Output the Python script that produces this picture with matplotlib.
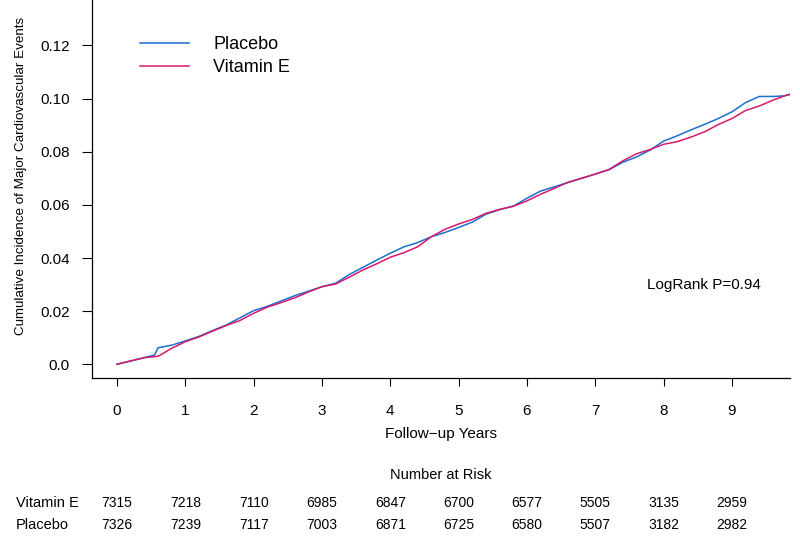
import matplotlib
matplotlib.use("Agg")
import matplotlib.pyplot as plt
import matplotlib.transforms as mtransforms

plt.rcParams['font.family'] = ['Liberation Sans', 'DejaVu Sans']

# follow-up time (years) and cumulative incidence
t_placebo = [0.0, 0.2, 0.4, 0.55, 0.6, 0.8, 1.0, 1.2, 1.4, 1.6, 1.8, 2.0, 2.2, 2.4, 2.6, 2.8,
             3.0, 3.2, 3.4, 3.6, 3.8, 4.0, 4.2, 4.4, 4.6, 4.8, 5.0, 5.2, 5.4, 5.6, 5.8,
             6.0, 6.2, 6.4, 6.6, 6.8, 7.0, 7.2, 7.4, 7.6, 7.8, 8.0, 8.2, 8.4, 8.6, 8.8,
             9.0, 9.2, 9.4, 9.6, 9.77, 9.85]
ci_placebo = [0.0, 0.0012, 0.0025, 0.0035, 0.0062, 0.0072, 0.0088, 0.0105, 0.0127, 0.0148, 0.0175,
              0.0202, 0.0218, 0.0238, 0.0258, 0.0275, 0.0292, 0.0305, 0.0338, 0.0365, 0.0392,
              0.0418, 0.0442, 0.0458, 0.0480, 0.0496, 0.0515, 0.0535, 0.0565, 0.0582, 0.0595,
              0.0625, 0.0652, 0.0668, 0.0684, 0.0700, 0.0716, 0.0732, 0.0760, 0.0780, 0.0806,
              0.0840, 0.0860, 0.0882, 0.0903, 0.0925, 0.0950, 0.0985, 0.1008, 0.1008, 0.1010,
              0.1017]

t_vite = [0.0, 0.2, 0.4, 0.6, 0.8, 1.0, 1.2, 1.4, 1.6, 1.8, 2.0, 2.2, 2.4, 2.6, 2.8,
          3.0, 3.2, 3.4, 3.6, 3.8, 4.0, 4.2, 4.4, 4.6, 4.8, 5.0, 5.2, 5.4, 5.6, 5.8,
          6.0, 6.2, 6.4, 6.6, 6.8, 7.0, 7.2, 7.4, 7.6, 7.8, 8.0, 8.2, 8.4, 8.6, 8.8,
          9.0, 9.2, 9.4, 9.6, 9.8, 9.85]
ci_vite = [0.0, 0.0013, 0.0025, 0.0030, 0.0060, 0.0085, 0.0103, 0.0125, 0.0146, 0.0165,
           0.0192, 0.0215, 0.0232, 0.0250, 0.0272, 0.0292, 0.0302, 0.0328, 0.0355, 0.0378,
           0.0403, 0.0420, 0.0442, 0.0480, 0.0508, 0.0528, 0.0545, 0.0568, 0.0583, 0.0595,
           0.0615, 0.0640, 0.0662, 0.0685, 0.0700, 0.0716, 0.0733, 0.0765, 0.0792, 0.0808,
           0.0828, 0.0838, 0.0855, 0.0875, 0.0902, 0.0925, 0.0955, 0.0972, 0.0994, 0.1013,
           0.1015]

years = [0, 1, 2, 3, 4, 5, 6, 7, 8, 9]
risk_vite = [7315, 7218, 7110, 6985, 6847, 6700, 6577, 5505, 3135, 2959]
risk_placebo = [7326, 7239, 7117, 7003, 6871, 6725, 6580, 5507, 3182, 2982]

yticks = [0.0, 0.02, 0.04, 0.06, 0.08, 0.10, 0.12]
ylabels = ['0.0', '0.02', '0.04', '0.06', '0.08', '0.10', '0.12']

blue = '#1a6fd0'
pink = '#d6196b'

fig = plt.figure(figsize=(8, 5.38), dpi=100)
ax = fig.add_axes([0.115, 0.2974, 0.8725, 0.7026])

ax.plot(t_placebo, ci_placebo, color=blue, lw=1.1, label='Placebo')
ax.plot(t_vite, ci_vite, color=pink, lw=1.1, label='Vitamin E')

ax.set_xlim(-0.366, 9.85)
ax.set_ylim(-0.00516, 0.1371)

ax.spines['top'].set_visible(False)
ax.spines['right'].set_visible(False)
ax.spines['left'].set_linewidth(0.9)
ax.spines['bottom'].set_linewidth(0.9)

ax.set_xticks(years)
ax.set_xticklabels([str(y) for y in years])
ax.set_yticks(yticks)
ax.set_yticklabels(ylabels)
ax.tick_params(axis='x', length=6, width=0.8, pad=13, labelsize=11)
ax.tick_params(axis='y', length=7, width=0.8, pad=9, labelsize=11)

ax.set_xlabel('Follow\u2212up Years', fontsize=11, labelpad=6)
ax.set_ylabel('Cumulative Incidence of Major Cardiovascular Events', fontsize=9.6)
ax.yaxis.set_label_coords(-0.093, 0.535)

ax.legend(loc='upper left', bbox_to_anchor=(0.069, 0.905), frameon=False,
          fontsize=13, handlelength=2.7, handletextpad=1.35, labelspacing=0.36,
          borderpad=0, borderaxespad=0)

ax.text(7.76, 0.0298, 'LogRank P=0.94', fontsize=11, ha='left', va='center')

# number at risk table
tr = mtransforms.blended_transform_factory(ax.transData, fig.transFigure)
fig.text(0.551, 1 - 475 / 538, 'Number at Risk', fontsize=10.5, ha='center', va='center')
fig.text(16 / 800, 1 - 503 / 538, 'Vitamin E', fontsize=10.5, ha='left', va='center')
fig.text(16 / 800, 1 - 525 / 538, 'Placebo', fontsize=10.5, ha='left', va='center')
for x, a, b in zip(years, risk_vite, risk_placebo):
    ax.text(x, 1 - 503 / 538, str(a), transform=tr, fontsize=10, ha='center', va='center')
    ax.text(x, 1 - 525 / 538, str(b), transform=tr, fontsize=10, ha='center', va='center')

fig.savefig('out.png', dpi=100)
